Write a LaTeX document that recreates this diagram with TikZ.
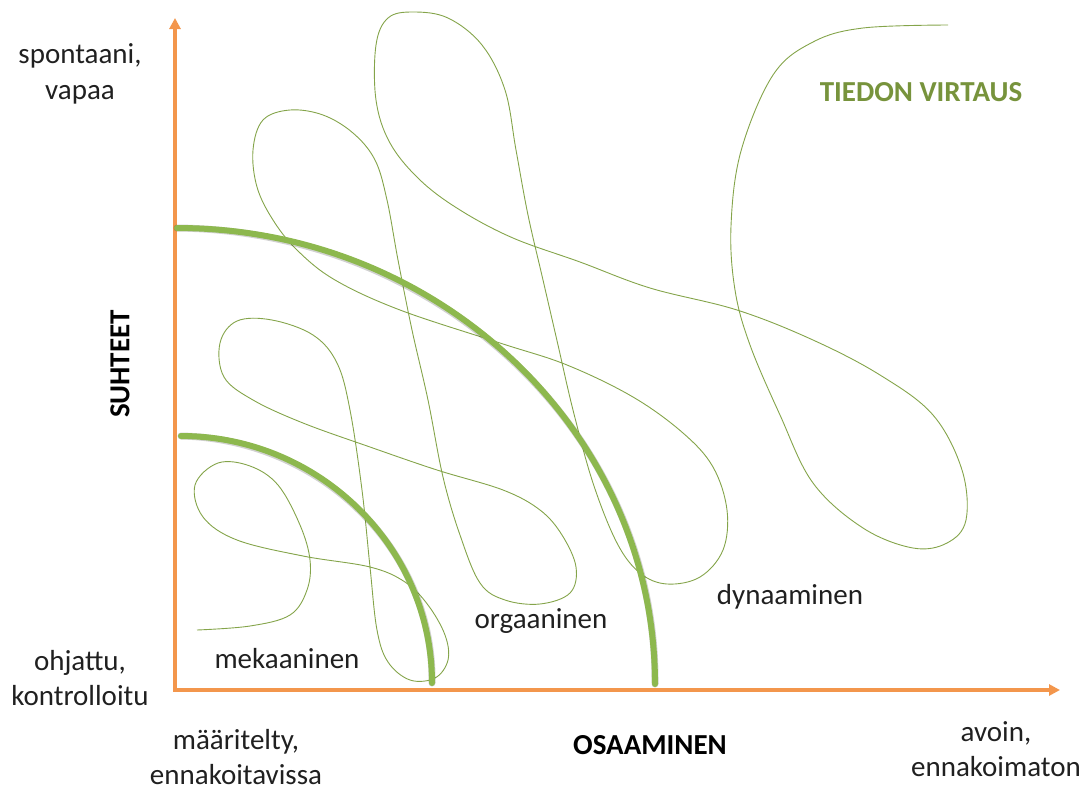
\documentclass[tikz,border=0pt]{standalone}
\usepackage{fontspec}
\setmainfont{Carlito}
\usetikzlibrary{arrows.meta}
\definecolor{axisorange}{RGB}{243,150,76}
\definecolor{arcgreen}{RGB}{141,184,78}
\definecolor{flowgreen}{RGB}{132,164,74}
\definecolor{titlegreen}{RGB}{119,147,60}
\definecolor{txtgray}{RGB}{32,32,32}

\begin{document}
\begin{tikzpicture}[x=1pt,y=-1pt,
  axisline/.style={draw=axisorange, line width=3.5pt, -{Triangle[width=11pt,length=11pt]}},
  flowline/.style={draw=flowgreen, line width=0.9pt},
  bandarc/.style={draw=arcgreen, line width=6pt, line cap=round},
  bandshadow/.style={draw=black, opacity=0.18, line width=7pt, line cap=round},
  lbl/.style={font=\fontsize{29}{35.5}\selectfont, text=txtgray, align=center, inner sep=0pt},
  headlbl/.style={font=\fontsize{29}{35.5}\selectfont\bfseries, text=black, inner sep=0pt},
  zonelbl/.style={font=\fontsize{29}{35.5}\selectfont, text=txtgray, inner sep=0pt}
]
\useasboundingbox (0,0) rectangle (1087,793);

% axes
\coordinate (O) at (175,690);
\coordinate (ytop) at (175,18);
\coordinate (xend) at (1060,690);
\draw[axisline] ([yshift=-1.75pt]O) -- (ytop);
\draw[axisline] ([xshift=-1.75pt]O) -- (xend);

% knowledge flow curve
\draw[flowline] plot[smooth, tension=0.6] coordinates {
 (197,630) (250,626) (290,615) (307,590) (310,560) (300,525) (278,485)
 (250,466) (218,463) (195,485) (203,517) (237,540) (303,556) (370,567)
 (405,582) (428,605) (445,635) (448,660) (435,678) (410,680) (388,662)
 (377,630) (370,567) (362,490) (350,410) (337,363) (313,335) (272,320)
 (237,321) (220,343) (224,377) (253,400) (303,423) (370,447) (437,470)
 (503,490) (540,510) (562,535) (576,567) (570,593) (540,604) (505,600)
 (480,583) (460,535) (443,477) (428,400) (412,330) (398,260) (387,200)
 (375,160) (353,133) (323,115) (290,110) (263,120) (253,150) (257,187)
 (273,220) (297,250) (335,280) (400,310) (500,343) (567,365) (633,397)
 (683,433) (713,467) (727,510) (723,550) (700,577) (667,584) (640,573)
 (617,543) (593,483) (573,410) (558,345) (543,280) (528,215) (516,150)
 (505,90) (482,45) (448,18) (413,12) (388,18) (376,45) (376,100)
 (390,143) (420,180) (460,210) (513,238) (580,262) (650,288) (737,310)
 (813,340) (880,375) (933,415) (962,470) (966,520) (947,543) (913,548)
 (863,528) (813,483) (780,415) (750,345) (735,290) (731,226) (741,151)
 (773,75) (813,42) (863,28) (948,25)};

% zone boundaries
\coordinate (a1s) at (177,228);
\coordinate (a1e) at (655,684);
\coordinate (a2s) at (181,436);
\coordinate (a2e) at (432,683);
\begin{scope}[shift={(2,3)}]
  \draw[bandshadow] (a1s) .. controls (440,228) and (655,433) .. (a1e);
  \draw[bandshadow] (a2s) .. controls (319,436) and (432,547) .. (a2e);
\end{scope}
\draw[bandarc] (a1s) .. controls (440,228) and (655,433) .. (a1e);
\draw[bandarc] (a2s) .. controls (319,436) and (432,547) .. (a2e);

% zone names
\node[zonelbl] (mek) at (287,659) {mekaaninen};
\node[zonelbl] (org) at (541,621) {orgaaninen};
\node[zonelbl] (dyn) at (790,597) {dynaaminen};

% axis labels
\node[lbl] (spont) at (80,74) {spontaani,\\vapaa};
\node[lbl] (ohj) at (80,678) {ohjattu,\\kontrolloitu};
\node[lbl] (maar) at (236,757) {määritelty,\\ennakoitavissa};
\node[lbl] (avoin) at (996,749) {avoin,\\ennakoimaton};
\node[headlbl] (osa) at (650,745) {OSAAMINEN};
\node[headlbl, rotate=90] (suh) at (120,364) {SUHTEET};
\node[headlbl, text=titlegreen] (tiedon) at (921,92) {TIEDON VIRTAUS};
\end{tikzpicture}
\end{document}
